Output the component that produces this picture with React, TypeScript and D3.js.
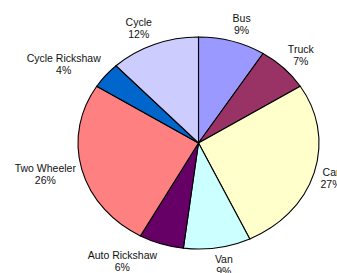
import React from "react";
import * as d3 from "d3";

const categories = ["Bus", "Truck", "Car", "Van", "Auto Rickshaw", "Two Wheeler", "Cycle Rickshaw", "Cycle"];
const shares = [9, 7, 27, 9, 6, 26, 4, 12];
const colors = ["#9999ff", "#993366", "#ffffcc", "#ccffff", "#660066", "#ff8080", "#0066cc", "#ccccff"];

const W = 337;
const H = 273;
const cx = 198.5;
const cy = 143;
const rx = 120.5;
const ry = 106;
const FONT = "10.5px 'Liberation Sans', Arial, sans-serif";

// excel nudged some labels sideways
const labelShift: Record<string, number> = { "Auto Rickshaw": -26, Cycle: -8, "Cycle Rickshaw": -8, Bus: 5, Van: 4, Truck: 3 };

function textWidth(s: string) {
  const ctx = document.createElement("canvas").getContext("2d");
  if (!ctx) return s.length * 5.5;
  ctx.font = FONT;
  return ctx.measureText(s).width;
}

export default function App() {
  const rows = categories.map((c, i) => ({ name: c, value: shares[i], color: colors[i] }));
  const arcs = d3.pie<any>().sort(null).value(d => d.value)(rows);
  const arc = d3.arc<any>().innerRadius(0).outerRadius(ry);

  return (
    <svg width={W} height={H} style={{ position: "absolute", left: 0, top: 0, background: "#fff" }}>
      <g transform={`translate(${cx},${cy}) scale(${rx / ry},1)`}>
        {arcs.map(a => (
          <path
            key={a.data.name}
            d={arc(a) || ""}
            fill={a.data.color}
            stroke="#000"
            strokeWidth={1.1}
            vectorEffect="non-scaling-stroke"
          />
        ))}
      </g>
      {arcs.map(a => {
        const mid = (a.startAngle + a.endAngle) / 2;
        const pct = `${a.data.value}%`;
        const w = Math.max(textWidth(a.data.name), textWidth(pct));
        const x = cx + (rx + 7 + w / 2) * Math.sin(mid) + (labelShift[a.data.name] || 0);
        const y = cy - (ry + 18) * Math.cos(mid);
        return (
          <text key={a.data.name} textAnchor="middle" fill="#111" style={{ font: FONT }}>
            <tspan x={x} y={y - 2}>{a.data.name}</tspan>
            <tspan x={x} y={y + 10}>{pct}</tspan>
          </text>
        );
      })}
    </svg>
  );
}
